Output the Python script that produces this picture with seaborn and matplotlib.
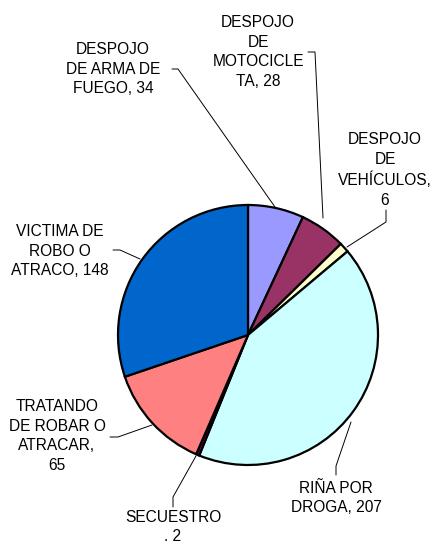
import numpy as np
import seaborn as sns
import matplotlib.pyplot as plt

# data
labels = ["DESPOJO\nDE ARMA DE\nFUEGO, 34", "DESPOJO\nDE\nMOTOCICLE\nTA, 28",
          "DESPOJO\nDE\nVEHÍCULOS,\n6", "RIÑA POR\nDROGA, 207", "SECUESTRO\n. 2",
          "TRATANDO\nDE ROBAR O\nATRACAR,\n65", "VICTIMA DE\nROBO O\nATRACO, 148"]
values = [34, 28, 6, 207, 2, 65, 148]
colors = ["#9999FF", "#993366", "#FFFFCC", "#CCFFFF", "#660066", "#FF8080", "#0066CC"]

# label text centres and leader line paths (pixel coords, y from top)
text_pos = [(113, 69), (258, 52), (385, 170), (336, 498), (173, 527), (57, 436), (60, 251)]
leaders = [
    [(172, 69), (178, 69), (275, 207)],
    [(308, 52), (315, 52), (323, 218)],
    [(386, 210), (386, 222), (347, 247)],
    [(336, 475), (336, 466), (351, 422)],
    [(173, 507), (173, 497), (196, 456)],
    [(110, 437), (118, 437), (152, 425)],
    [(113, 250), (120, 250), (140, 259)],
]

sns.set_theme(style="white")
plt.rcParams['font.family'] = ['Liberation Sans', 'DejaVu Sans']

W, H = 434, 546
fig = plt.figure(figsize=(W / 100, H / 100), dpi=100)
ax = fig.add_axes([0, 0, 1, 1])

# pie drawn in pixel-like data coords; y axis inverted, so start at -90
ax.pie(values, colors=colors, startangle=-90, counterclock=True,
       center=(248, 335), radius=130, frame=True,
       wedgeprops=dict(edgecolor="black", linewidth=1.6))
ax.set_xlim(0, W)
ax.set_ylim(H, 0)
ax.set_aspect("equal")
ax.axis("off")

for lab, (tx, ty), pts in zip(labels, text_pos, leaders):
    ax.text(tx, ty, lab, ha="center", va="center", fontsize=11.2,
            linespacing=1.4, color="black")
    xs, ys = zip(*pts)
    ax.plot(xs, ys, color="black", linewidth=0.7)

fig.savefig("out.png", dpi=100, facecolor="white")
